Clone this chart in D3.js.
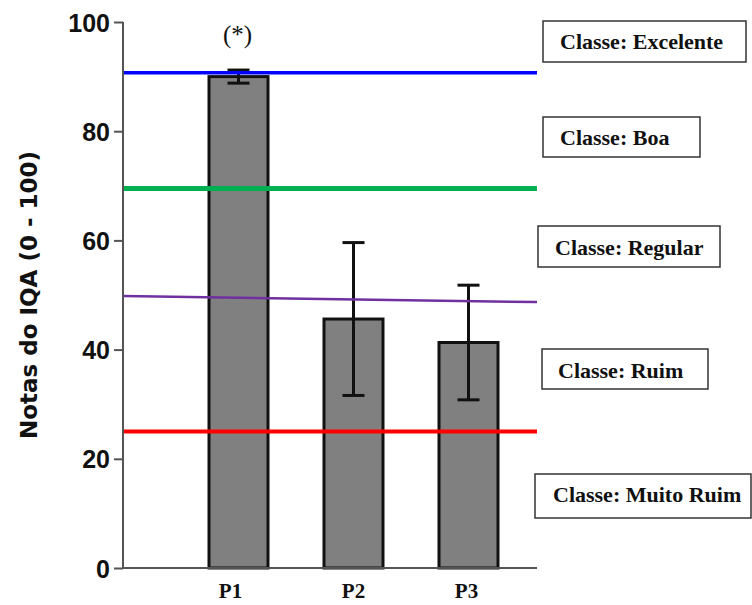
<!DOCTYPE html>
<html>
<head>
<meta charset="utf-8">
<script src="https://cdn.jsdelivr.net/npm/d3@7"></script>
<style>
  html, body { margin: 0; padding: 0; background: #fff; }
  svg { display: block; }
</style>
</head>
<body>
<svg id="chart" width="752" height="605"></svg>
<script>
// Pontos de coleta e notas médias do IQA com desvio padrão
const categories = ["P1", "P2", "P3"];
const means = [90, 45.6, 41.3];
const errors = [1.2, 14, 10.5];

// Limites das classes (valor na borda esquerda e direita da linha)
const classNames = ["Classe: Excelente", "Classe: Boa", "Classe: Regular", "Classe: Ruim", "Classe: Muito Ruim"];
const limitStart = [90.7, 69.5, 49.8, 25.0];
const limitEnd = [90.7, 69.5, 48.7, 25.0];
const limitColors = ["#0000ff", "#00b050", "#7030a0", "#ff0000"];
const limitWidths = [3.5, 5, 2.5, 4];

const yTicks = [0, 20, 40, 60, 80, 100];
const yTitle = "Notas do IQA (0 - 100)";
const note = "(*)";

const svg = d3.select("#chart");

const x0 = 123, x1 = 537;
const y = d3.scaleLinear().domain([0, 100]).range([568, 22]);
const x = d3.scaleBand().domain(categories).range([181, 526])
  .paddingInner(0.487).paddingOuter(0.2435);

const limits = limitStart.map((v, i) => ({ a: v, b: limitEnd[i], c: limitColors[i], w: limitWidths[i] }));

// Barras
svg.append("g").selectAll("rect")
  .data(categories)
  .join("rect")
  .attr("x", d => x(d))
  .attr("y", (d, i) => y(means[i]))
  .attr("width", x.bandwidth())
  .attr("height", (d, i) => y(0) - y(means[i]))
  .attr("fill", "#808080")
  .attr("stroke", "#111")
  .attr("stroke-width", 3);

// Barras de erro
const eg = svg.append("g").attr("stroke", "#111").attr("stroke-width", 3);
categories.forEach((c, i) => {
  const cx = x(c) + x.bandwidth() / 2;
  const hi = y(means[i] + errors[i]), lo = y(means[i] - errors[i]);
  eg.append("line").attr("x1", cx).attr("x2", cx).attr("y1", hi).attr("y2", lo);
  eg.append("line").attr("x1", cx - 11).attr("x2", cx + 11).attr("y1", hi).attr("y2", hi);
  eg.append("line").attr("x1", cx - 11).attr("x2", cx + 11).attr("y1", lo).attr("y2", lo);
});

// Linhas de limite das classes
svg.append("g").selectAll("line")
  .data(limits)
  .join("line")
  .attr("x1", x0).attr("x2", x1)
  .attr("y1", d => y(d.a)).attr("y2", d => y(d.b))
  .attr("stroke", d => d.c)
  .attr("stroke-width", d => d.w);

// Eixo Y
const yAxis = svg.append("g")
  .attr("transform", `translate(${x0},0)`)
  .call(d3.axisLeft(y).tickValues(yTicks).tickSize(9).tickPadding(4));
yAxis.select(".domain").attr("stroke", "#555").attr("stroke-width", 2).attr("d", `M-0,${y(0)}V${y(100)}`);
yAxis.selectAll(".tick line").attr("stroke", "#555").attr("stroke-width", 2);
yAxis.selectAll(".tick text")
  .attr("fill", "#111")
  .attr("dy", "0.36em")
  .style("font-family", "'Liberation Sans', Arial, sans-serif")
  .style("font-weight", "bold")
  .style("font-size", "25px");

// Eixo X (linha de base)
svg.append("line")
  .attr("x1", x0).attr("x2", x1)
  .attr("y1", y(0)).attr("y2", y(0))
  .attr("stroke", "#555").attr("stroke-width", 2);

// Rótulos das categorias (pequeno deslocamento horizontal de cada um)
const labelShift = [-8, 0, -2];
svg.append("g").selectAll("text")
  .data(categories)
  .join("text")
  .attr("x", (d, i) => x(d) + x.bandwidth() / 2 + labelShift[i])
  .attr("y", 598)
  .attr("text-anchor", "middle")
  .style("font-family", "'Liberation Serif', 'Times New Roman', serif")
  .style("font-weight", "bold")
  .style("font-size", "21px")
  .attr("fill", "#111")
  .text(d => d);

// Título do eixo Y
svg.append("text")
  .attr("transform", "translate(37,295) rotate(-90)")
  .attr("text-anchor", "middle")
  .style("font-family", "'DejaVu Sans', Verdana, sans-serif")
  .style("font-weight", "bold")
  .style("font-size", "23px")
  .attr("fill", "#111")
  .text(yTitle);

// Marca de significância sobre P1
svg.append("text")
  .attr("x", x("P1") + x.bandwidth() / 2 - 1)
  .attr("y", 43)
  .attr("text-anchor", "middle")
  .style("font-family", "'Liberation Serif', 'Times New Roman', serif")
  .style("font-size", "25px")
  .attr("fill", "#111")
  .text(note);

// Caixas com o nome das classes
const boxes = [
  { x: 543, y: 21, w: 203, h: 41, tx: 560, ty: 49 },
  { x: 543, y: 117, w: 157, h: 40, tx: 560, ty: 145 },
  { x: 538, y: 226, w: 182, h: 41, tx: 555, ty: 255 },
  { x: 542, y: 349, w: 166, h: 40, tx: 558, ty: 378 },
  { x: 535, y: 474, w: 216, h: 44, tx: 553, ty: 502 }
];
const bg = svg.append("g");
classNames.forEach((name, i) => {
  const b = boxes[i];
  bg.append("rect")
    .attr("x", b.x).attr("y", b.y).attr("width", b.w).attr("height", b.h)
    .attr("fill", "#fff").attr("stroke", "#333").attr("stroke-width", 1.5);
  bg.append("text")
    .attr("x", b.tx).attr("y", b.ty)
    .style("font-family", "'Liberation Serif', 'Times New Roman', serif")
    .style("font-weight", "bold")
    .style("font-size", "22px")
    .attr("fill", "#111")
    .text(name);
});
</script>
</body>
</html>
